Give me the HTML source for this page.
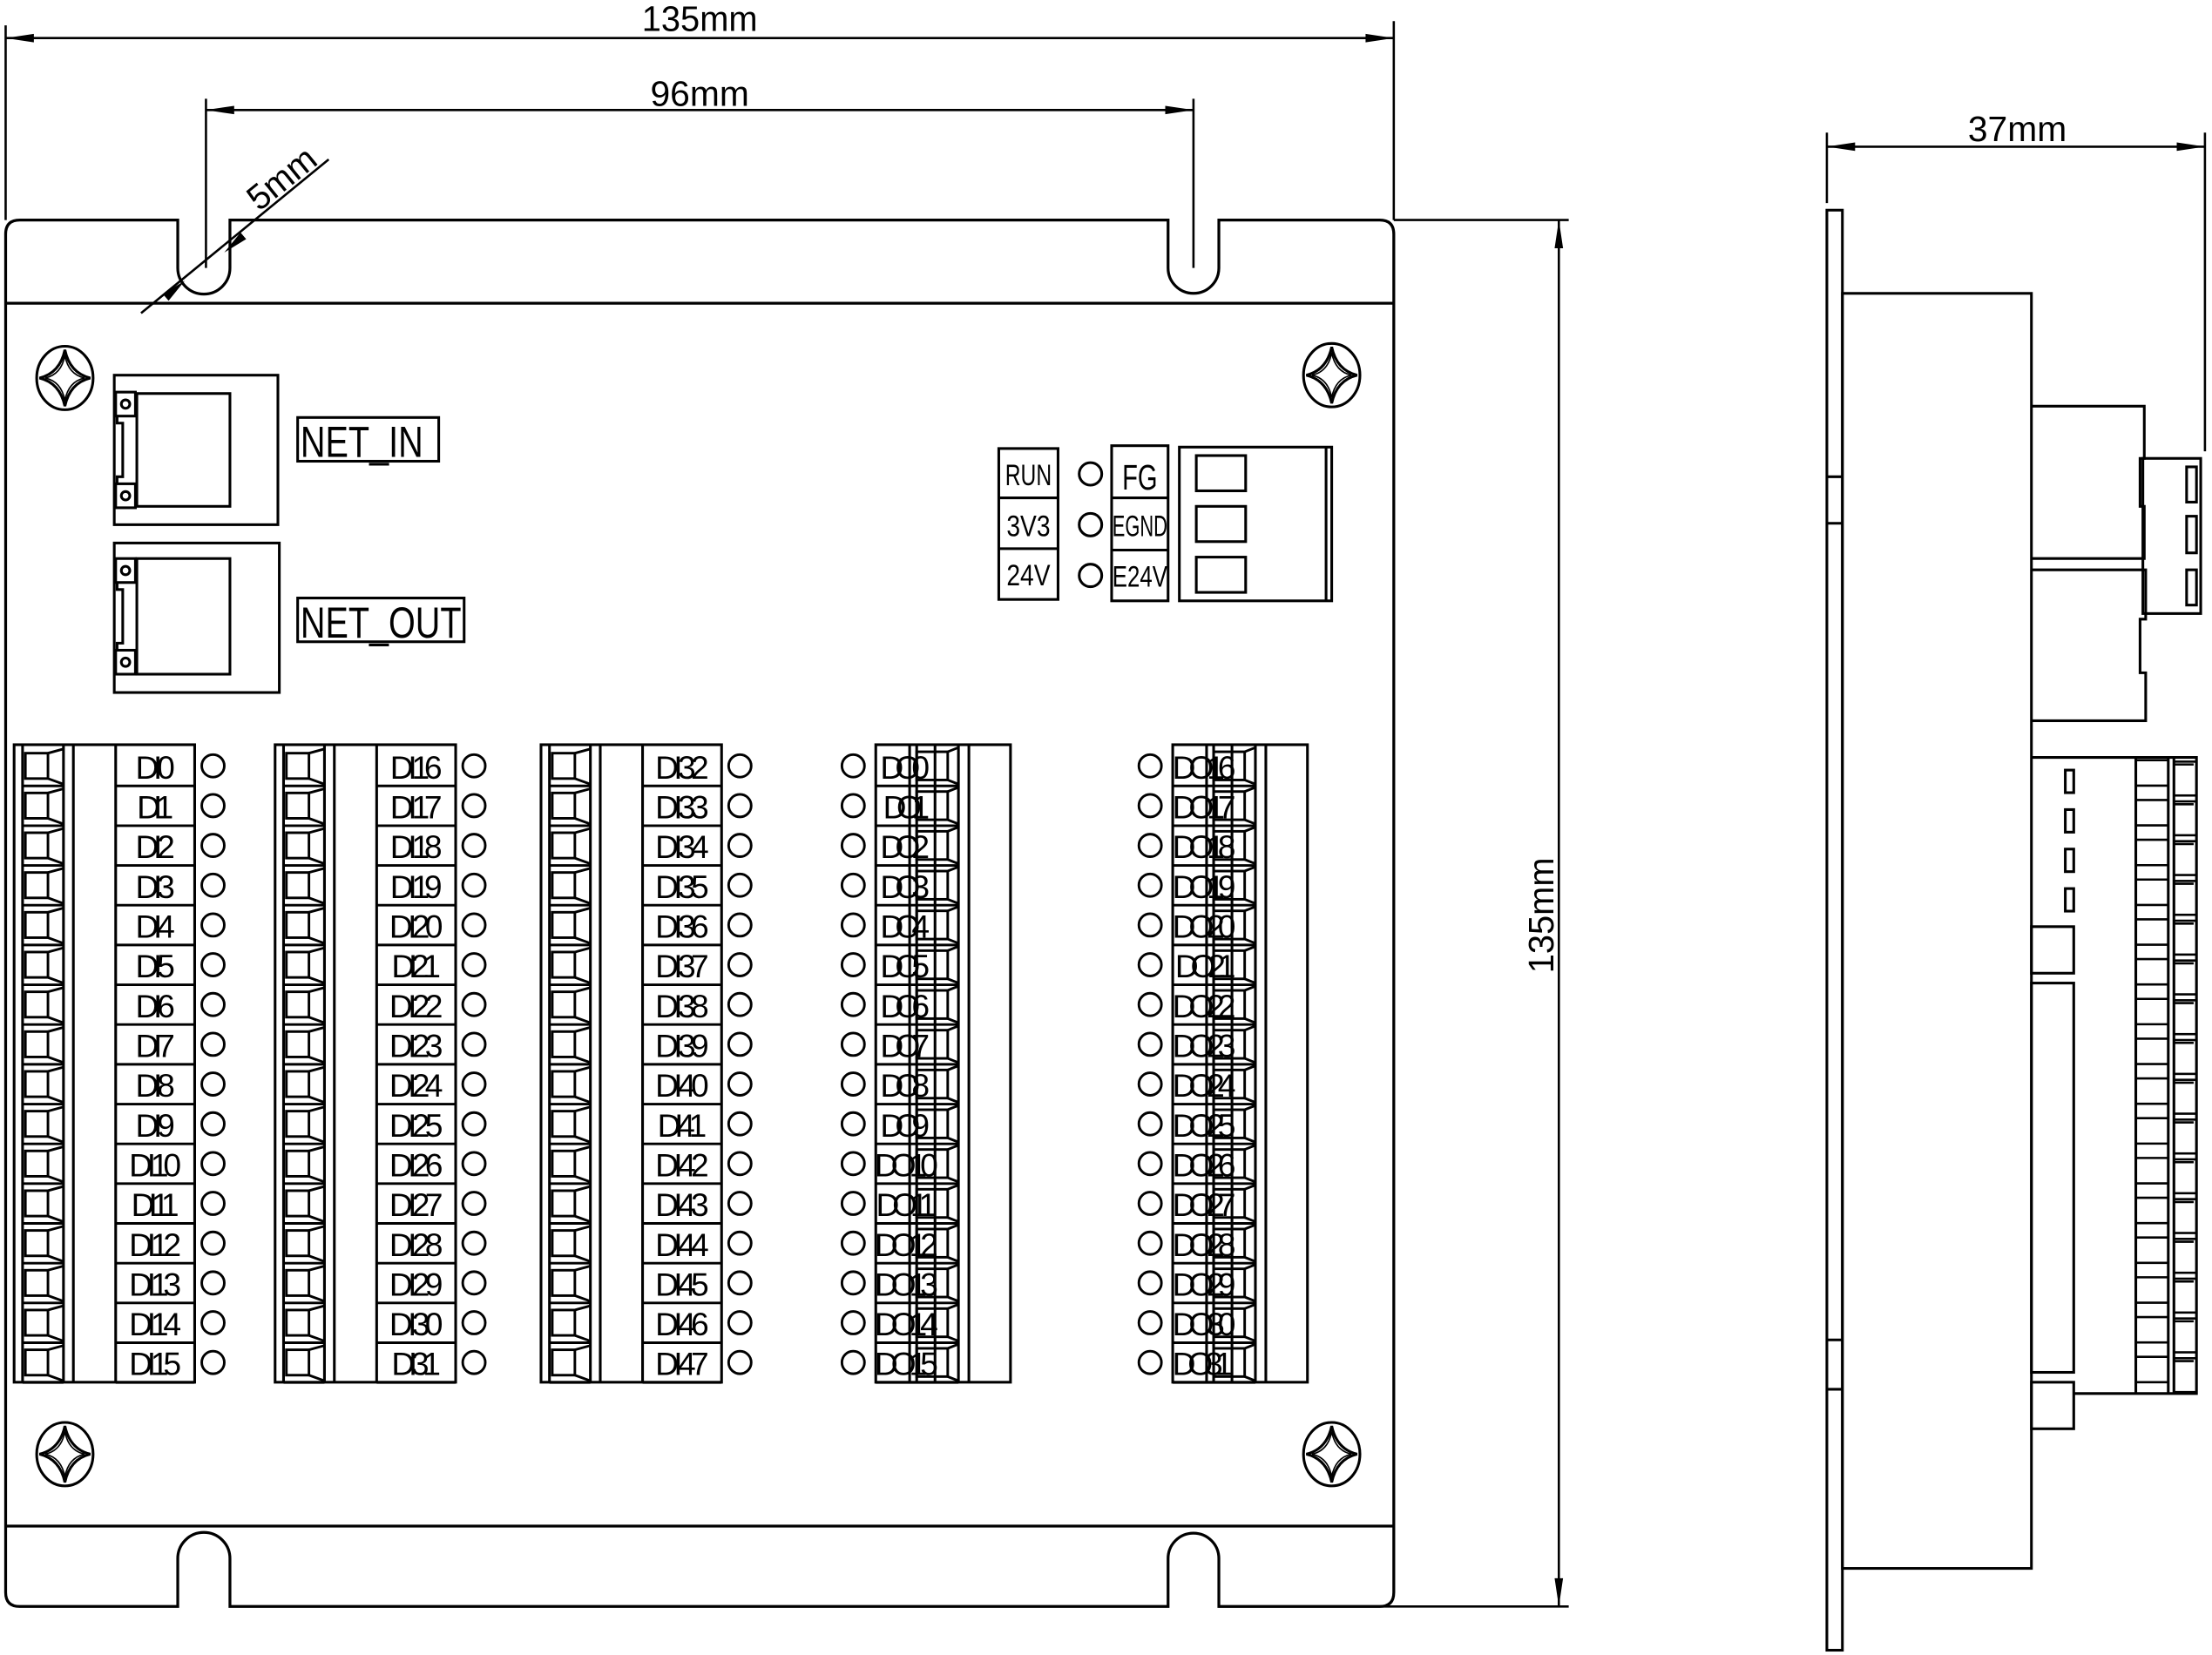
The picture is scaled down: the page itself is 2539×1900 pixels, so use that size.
<!DOCTYPE html>
<html><head><meta charset="utf-8"><style>
html,body{margin:0;padding:0;background:#fff;}
svg{display:block;}
text{font-family:"Liberation Sans",sans-serif;fill:#000;stroke:none;}
</style></head><body>
<svg width="2539" height="1900" viewBox="0 0 1568 1173.4" preserveAspectRatio="none" xmlns="http://www.w3.org/2000/svg">
<defs>
<g id="screw" fill="none" stroke="#000" stroke-width="1.9">
<ellipse cx="0" cy="0" rx="20" ry="22.5"/>
<path d="M0,-20 Q3.5,-3.5 18,0 Q3.5,3.5 0,20 Q-3.5,3.5 -18,0 Q-3.5,-3.5 0,-20Z"/>
<path d="M0,-16 Q2.5,-2.5 14,0 Q2.5,2.5 0,16 Q-2.5,2.5 -14,0 Q-2.5,-2.5 0,-16Z" stroke-width="1"/>
</g>
<g id="dirow" fill="none" stroke="#000" stroke-width="1.8">
<rect x="8" y="5" width="16" height="18"/>
<line x1="24" y1="5" x2="35" y2="2"/>
<line x1="24" y1="23" x2="35" y2="27"/>
<line x1="6" y1="28.2" x2="35" y2="28.2"/>
<line x1="72" y1="28.2" x2="128" y2="28.2"/>
<circle cx="141" cy="14" r="8"/>
</g>
<g id="diframe" fill="none" stroke="#000" stroke-width="1.9">
<rect x="0" y="528" width="128" height="452"/>
<line x1="6" y1="528" x2="6" y2="980"/>
<line x1="35" y1="528" x2="35" y2="980"/>
<line x1="42" y1="528" x2="42" y2="980"/>
<line x1="72" y1="528" x2="72" y2="980"/>
</g>
<g id="dorow" fill="none" stroke="#000" stroke-width="1.8">
<rect x="29" y="4" width="22" height="20"/>
<line x1="51" y1="4" x2="58.6" y2="1"/>
<line x1="51" y1="24" x2="58.6" y2="27"/>
<line x1="0" y1="28.2" x2="58.6" y2="28.2"/>
<circle cx="-16" cy="14" r="8"/>
</g>
<g id="doframe" fill="none" stroke="#000" stroke-width="1.9">
<rect x="0" y="528" width="95.5" height="452"/>
<line x1="24" y1="528" x2="24" y2="980"/>
<line x1="29" y1="528" x2="29" y2="980"/>
<line x1="42" y1="528" x2="42" y2="980"/>
<line x1="58.6" y1="528" x2="58.6" y2="980"/>
<line x1="66" y1="528" x2="66" y2="980"/>
</g>
<g id="srow" fill="none" stroke="#000" stroke-width="1.6">
<line x1="1514" y1="2" x2="1537" y2="2"/>
<line x1="1514" y1="20" x2="1537" y2="20"/>
<rect x="1541" y="3" width="16" height="24"/>
<line x1="1541" y1="5" x2="1555" y2="5"/>
</g>
</defs>

<g fill="none" stroke="#000" stroke-width="2">
<path d="M14,156 L126,156 L126,190 A18.5,18.5 0 0 0 163,190 L163,156 L828,156 L828,190 A18,18 0 0 0 864,190 L864,156 L978,156 Q988,156 988,166 L988,1129 Q988,1139 978,1139 L864,1139 L864,1105 A18,18 0 0 0 828,1105 L828,1139 L163,1139 L163,1105 A18.5,18.5 0 0 0 126,1105 L126,1139 L14,1139 Q4,1139 4,1129 L4,166 Q4,156 14,156 Z"/>
<line x1="4" y1="215" x2="988" y2="215"/>
<line x1="4" y1="1082" x2="988" y2="1082"/>
</g>

<g stroke="#000" stroke-width="1.6" fill="none">
<line x1="4" y1="18" x2="4" y2="156"/>
<line x1="988" y1="15" x2="988" y2="156"/>
<line x1="4" y1="27" x2="988" y2="27"/>
<line x1="146" y1="70" x2="146" y2="190"/>
<line x1="846" y1="70" x2="846" y2="190"/>
<line x1="146" y1="78" x2="846" y2="78"/>
<line x1="988" y1="156" x2="1112" y2="156"/>
<line x1="864" y1="1139" x2="1112" y2="1139"/>
<line x1="1105" y1="156" x2="1105" y2="1139"/>
<line x1="100" y1="222" x2="233" y2="113"/>
<line x1="1295" y1="94" x2="1295" y2="144"/>
<line x1="1563" y1="94" x2="1563" y2="320"/>
<line x1="1295" y1="104" x2="1563" y2="104"/>
</g>
<g fill="#000" stroke="none">
<polygon points="4,27 24,24 24,30"/>
<polygon points="988,27 968,24 968,30"/>
<polygon points="146,78 166,75 166,81"/>
<polygon points="846,78 826,75 826,81"/>
<polygon points="1105,156 1102,176 1108,176"/>
<polygon points="1105,1139 1102,1119 1108,1119"/>
<polygon points="1295,104 1315,101 1315,107"/>
<polygon points="1563,104 1543,101 1543,107"/>
<polygon points="131,199 115.5,208.5 119.5,213.2"/>
<polygon points="159,179 174.5,169.5 170.5,164.8"/>
</g>
<text x="496" y="22" font-size="25" text-anchor="middle" textLength="82" lengthAdjust="spacingAndGlyphs">135mm</text>
<text x="496" y="75" font-size="25" text-anchor="middle" textLength="70" lengthAdjust="spacingAndGlyphs">96mm</text>
<text x="1430" y="100" font-size="25" text-anchor="middle" textLength="70" lengthAdjust="spacingAndGlyphs">37mm</text>
<text transform="translate(1101,649) rotate(-90)" font-size="25" text-anchor="middle" textLength="82" lengthAdjust="spacingAndGlyphs">135mm</text>
<text transform="translate(205,133) rotate(-39)" font-size="25" text-anchor="middle" textLength="55" lengthAdjust="spacingAndGlyphs">5mm</text>

<use href="#screw" x="46" y="268"/>
<use href="#screw" x="944" y="266"/>
<use href="#screw" x="46" y="1031"/>
<use href="#screw" x="944" y="1031"/>

<g fill="none" stroke="#000" stroke-width="1.9">
<rect x="81" y="266" width="116" height="106"/>
<rect x="97" y="279" width="66" height="80"/>
<rect x="82" y="278" width="14" height="17"/><circle cx="89" cy="286.5" r="3"/>
<rect x="82" y="343" width="14" height="17"/><circle cx="89" cy="351.5" r="3"/>
<path d="M83,295 L83,300 L87,300 L87,338 L83,338 L83,343"/>
<rect x="81" y="385" width="117" height="106"/>
<rect x="97" y="396" width="66" height="82"/>
<rect x="82" y="396" width="14" height="17"/><circle cx="89" cy="404.5" r="3"/>
<rect x="82" y="461" width="14" height="17"/><circle cx="89" cy="469.5" r="3"/>
<path d="M83,413 L83,418 L87,418 L87,456 L83,456 L83,461"/>
<rect x="211" y="296" width="100" height="31"/>
<rect x="211" y="424" width="118" height="31"/>
</g>
<text x="213" y="324" font-size="31" textLength="87" lengthAdjust="spacingAndGlyphs">NET_IN</text>
<text x="213" y="452" font-size="31" textLength="114" lengthAdjust="spacingAndGlyphs">NET_OUT</text>

<g fill="none" stroke="#000" stroke-width="1.9">
<rect x="708" y="318" width="42" height="107"/>
<line x1="708" y1="353" x2="750" y2="353"/>
<line x1="708" y1="389" x2="750" y2="389"/>
<circle cx="773" cy="336" r="8"/>
<circle cx="773" cy="372" r="8"/>
<circle cx="773" cy="408" r="8"/>
<rect x="788" y="316" width="40" height="110"/>
<line x1="788" y1="353" x2="828" y2="353"/>
<line x1="788" y1="390" x2="828" y2="390"/>
<rect x="836" y="317" width="108" height="109"/>
<line x1="940" y1="317" x2="940" y2="426"/>
<rect x="848" y="323" width="35" height="25"/>
<rect x="848" y="359" width="35" height="25"/>
<rect x="848" y="395" width="35" height="25"/>
</g>
<text x="729" y="344" font-size="21" text-anchor="middle" textLength="33" lengthAdjust="spacingAndGlyphs">RUN</text>
<text x="729" y="380" font-size="21" text-anchor="middle" textLength="31" lengthAdjust="spacingAndGlyphs">3V3</text>
<text x="729" y="415" font-size="21" text-anchor="middle" textLength="31" lengthAdjust="spacingAndGlyphs">24V</text>
<text x="808" y="347" font-size="25" text-anchor="middle" textLength="25" lengthAdjust="spacingAndGlyphs">FG</text>
<text x="808" y="380" font-size="21" text-anchor="middle" textLength="39" lengthAdjust="spacingAndGlyphs">EGND</text>
<text x="808" y="416" font-size="21" text-anchor="middle" textLength="39" lengthAdjust="spacingAndGlyphs">E24V</text>

<g id="diblk1" transform="translate(10,0)">
<use href="#diframe"/>
<use href="#dirow" y="529"/><use href="#dirow" y="557.2"/><use href="#dirow" y="585.4"/><use href="#dirow" y="613.6"/>
<use href="#dirow" y="641.8"/><use href="#dirow" y="670"/><use href="#dirow" y="698.2"/><use href="#dirow" y="726.4"/>
<use href="#dirow" y="754.6"/><use href="#dirow" y="782.8"/><use href="#dirow" y="811"/><use href="#dirow" y="839.2"/>
<use href="#dirow" y="867.4"/><use href="#dirow" y="895.6"/><use href="#dirow" y="923.8"/><use href="#dirow" y="952"/>
</g>
<use href="#diblk1" x="185"/>
<use href="#diblk1" x="373.5"/>

<g font-size="23" text-anchor="middle" lengthAdjust="spacingAndGlyphs">
<text x="110" y="552" textLength="28">DI0</text>
<text x="110" y="580.2" textLength="26">DI1</text>
<text x="110" y="608.4" textLength="28">DI2</text>
<text x="110" y="636.6" textLength="28">DI3</text>
<text x="110" y="664.8" textLength="28">DI4</text>
<text x="110" y="693" textLength="28">DI5</text>
<text x="110" y="721.2" textLength="28">DI6</text>
<text x="110" y="749.4" textLength="28">DI7</text>
<text x="110" y="777.6" textLength="28">DI8</text>
<text x="110" y="805.8" textLength="28">DI9</text>
<text x="110" y="834" textLength="37">DI10</text>
<text x="110" y="862.2" textLength="34">DI11</text>
<text x="110" y="890.4" textLength="37">DI12</text>
<text x="110" y="918.6" textLength="37">DI13</text>
<text x="110" y="946.8" textLength="37">DI14</text>
<text x="110" y="975" textLength="37">DI15</text>

<text x="295" y="552" textLength="37">DI16</text>
<text x="295" y="580.2" textLength="37">DI17</text>
<text x="295" y="608.4" textLength="37">DI18</text>
<text x="295" y="636.6" textLength="37">DI19</text>
<text x="295" y="664.8" textLength="38">DI20</text>
<text x="295" y="693" textLength="35">DI21</text>
<text x="295" y="721.2" textLength="38">DI22</text>
<text x="295" y="749.4" textLength="38">DI23</text>
<text x="295" y="777.6" textLength="38">DI24</text>
<text x="295" y="805.8" textLength="38">DI25</text>
<text x="295" y="834" textLength="38">DI26</text>
<text x="295" y="862.2" textLength="38">DI27</text>
<text x="295" y="890.4" textLength="38">DI28</text>
<text x="295" y="918.6" textLength="38">DI29</text>
<text x="295" y="946.8" textLength="38">DI30</text>
<text x="295" y="975" textLength="35">DI31</text>

<text x="483.5" y="552" textLength="38">DI32</text>
<text x="483.5" y="580.2" textLength="38">DI33</text>
<text x="483.5" y="608.4" textLength="38">DI34</text>
<text x="483.5" y="636.6" textLength="38">DI35</text>
<text x="483.5" y="664.8" textLength="38">DI36</text>
<text x="483.5" y="693" textLength="38">DI37</text>
<text x="483.5" y="721.2" textLength="38">DI38</text>
<text x="483.5" y="749.4" textLength="38">DI39</text>
<text x="483.5" y="777.6" textLength="38">DI40</text>
<text x="483.5" y="805.8" textLength="35">DI41</text>
<text x="483.5" y="834" textLength="38">DI42</text>
<text x="483.5" y="862.2" textLength="38">DI43</text>
<text x="483.5" y="890.4" textLength="38">DI44</text>
<text x="483.5" y="918.6" textLength="38">DI45</text>
<text x="483.5" y="946.8" textLength="38">DI46</text>
<text x="483.5" y="975" textLength="38">DI47</text>
</g>

<g id="doblk1" transform="translate(620.8,0)">
<use href="#doframe"/>
<use href="#dorow" y="529"/><use href="#dorow" y="557.2"/><use href="#dorow" y="585.4"/><use href="#dorow" y="613.6"/>
<use href="#dorow" y="641.8"/><use href="#dorow" y="670"/><use href="#dorow" y="698.2"/><use href="#dorow" y="726.4"/>
<use href="#dorow" y="754.6"/><use href="#dorow" y="782.8"/><use href="#dorow" y="811"/><use href="#dorow" y="839.2"/>
<use href="#dorow" y="867.4"/><use href="#dorow" y="895.6"/><use href="#dorow" y="923.8"/><use href="#dorow" y="952"/>
</g>
<use href="#doblk1" x="210.5"/>

<g font-size="23" lengthAdjust="spacingAndGlyphs">
<text x="624" y="552" textLength="35">DO0</text>
<text x="626" y="580.2" textLength="33">DO1</text>
<text x="624" y="608.4" textLength="35">DO2</text>
<text x="624" y="636.6" textLength="35">DO3</text>
<text x="624" y="664.8" textLength="35">DO4</text>
<text x="624" y="693" textLength="35">DO5</text>
<text x="624" y="721.2" textLength="35">DO6</text>
<text x="624" y="749.4" textLength="35">DO7</text>
<text x="624" y="777.6" textLength="35">DO8</text>
<text x="624" y="805.8" textLength="35">DO9</text>
<text x="620" y="834" textLength="45">DO10</text>
<text x="621" y="862.2" textLength="43">DO11</text>
<text x="620" y="890.4" textLength="45">DO12</text>
<text x="620" y="918.6" textLength="45">DO13</text>
<text x="620" y="946.8" textLength="45">DO14</text>
<text x="620" y="975" textLength="45">DO15</text>

<text x="831" y="552" textLength="45">DO16</text>
<text x="831" y="580.2" textLength="45">DO17</text>
<text x="831" y="608.4" textLength="45">DO18</text>
<text x="831" y="636.6" textLength="45">DO19</text>
<text x="831" y="664.8" textLength="45">DO20</text>
<text x="833" y="693" textLength="43">DO21</text>
<text x="831" y="721.2" textLength="45">DO22</text>
<text x="831" y="749.4" textLength="45">DO23</text>
<text x="831" y="777.6" textLength="45">DO24</text>
<text x="831" y="805.8" textLength="45">DO25</text>
<text x="831" y="834" textLength="45">DO26</text>
<text x="831" y="862.2" textLength="45">DO27</text>
<text x="831" y="890.4" textLength="45">DO28</text>
<text x="831" y="918.6" textLength="45">DO29</text>
<text x="831" y="946.8" textLength="45">DO30</text>
<text x="831" y="975" textLength="43">DO31</text>
</g>

<g fill="none" stroke="#000" stroke-width="1.9">
<rect x="1295" y="149" width="11" height="1021"/>
<line x1="1295" y1="338" x2="1306" y2="338"/>
<line x1="1295" y1="371" x2="1306" y2="371"/>
<line x1="1295" y1="950" x2="1306" y2="950"/>
<line x1="1295" y1="985" x2="1306" y2="985"/>
<rect x="1306" y="208" width="134" height="904"/>
<path d="M1440,288 L1520,288 L1520,325 L1517,325 L1517,359 L1520,359 L1520,396 L1440,396"/>
<path d="M1440,404 L1521,404 L1521,439 L1517,439 L1517,477 L1521,477 L1521,511 L1440,511"/>
<rect x="1519" y="325" width="41" height="110"/>
<rect x="1550" y="331" width="7" height="25"/>
<rect x="1550" y="366" width="7" height="26"/>
<rect x="1550" y="404" width="7" height="25"/>
<path d="M1440,537 L1557,537 L1557,988 L1470,988"/>
<line x1="1514" y1="537" x2="1514" y2="988"/>
<line x1="1537" y1="537" x2="1537" y2="988"/>
<line x1="1541" y1="537" x2="1541" y2="988"/>
<rect x="1464" y="546" width="6" height="16"/>
<rect x="1464" y="574" width="6" height="16"/>
<rect x="1464" y="602" width="6" height="16"/>
<rect x="1464" y="630" width="6" height="16"/>
<rect x="1440" y="657" width="30" height="33"/>
<rect x="1440" y="697" width="30" height="276"/>
<rect x="1440" y="980" width="30" height="33"/>
</g>
<use href="#srow" y="537"/><use href="#srow" y="565.2"/><use href="#srow" y="593.4"/><use href="#srow" y="621.6"/>
<use href="#srow" y="649.8"/><use href="#srow" y="678"/><use href="#srow" y="706.2"/><use href="#srow" y="734.4"/>
<use href="#srow" y="762.6"/><use href="#srow" y="790.8"/><use href="#srow" y="819"/><use href="#srow" y="847.2"/>
<use href="#srow" y="875.4"/><use href="#srow" y="903.6"/><use href="#srow" y="931.8"/><use href="#srow" y="960"/>
</svg>
</body></html>
